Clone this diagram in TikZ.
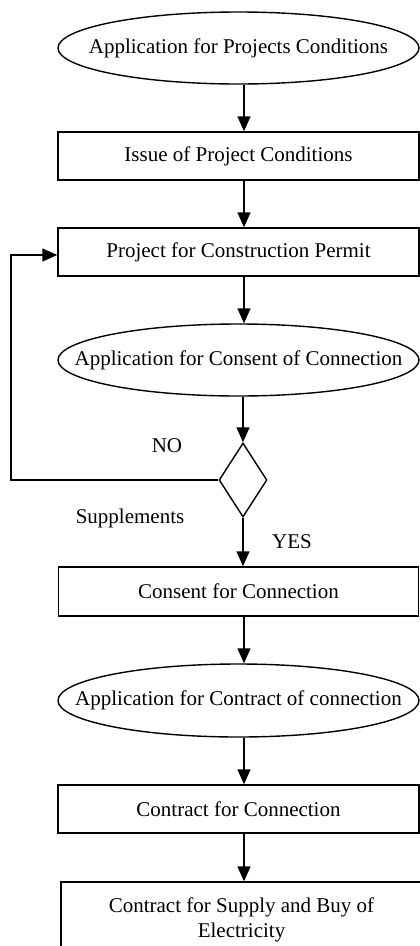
\documentclass[tikz,border=0pt]{standalone}
\usepackage{fontspec}
\setmainfont{Liberation Serif}
\usetikzlibrary{shapes.geometric,arrows.meta}
\tikzset{
  every node/.style={font=\fontsize{21}{24.5}\selectfont},
  stepbox/.style={draw, line width=1.4pt, rectangle, inner sep=0pt, minimum width=361pt, minimum height=48pt},
  oval/.style={draw, line width=1.4pt, ellipse, inner sep=0pt, minimum width=361pt, minimum height=72pt},
  decide/.style={draw, line width=1.4pt, diamond, inner sep=0pt, minimum width=48pt, minimum height=74pt},
  flow/.style={line width=1.4pt, -{Triangle[length=15pt,width=13pt]}},
  lbl/.style={inner sep=0pt}
}
\begin{document}
\begin{tikzpicture}[x=1pt,y=-1pt]
\clip (0,0) rectangle (420,946);
\fill[white] (0,0) rectangle (420,946);
\node[oval, label={[lbl]center:Application for Projects Conditions}] (e1) at (238.5,48) {};
\node[stepbox] (b1) at (238.5,156) {Issue of Project Conditions};
\node[stepbox] (b2) at (238.5,252) {Project for Construction Permit};
\node[oval, label={[lbl]center:Application for Consent of Connection}] (e2) at (238.5,360) {};
\node[decide] (d) at (243,480) {};
\node[stepbox, minimum width=360pt, minimum height=49pt] (b3) at (238.5,591.5) {Consent for Connection};
\node[oval, minimum height=73pt, label={[lbl]center:Application for Contract of connection}] (e3) at (238.5,700.5) {};
\node[stepbox] (b4) at (238.5,809) {Contract for Connection};
\node[stepbox, minimum height=76pt, align=center] (b5) at (241.5,920) {Contract for Supply and Buy of\\Electricity};
\node[lbl] (no) at (167,446) {NO};
\node[lbl] (sup) at (130,518) {Supplements};
\node[lbl] (yes) at (292,542) {YES};
\coordinate (fb) at (11,480);
\draw[flow] ([xshift=5.5pt]e1.south) -- ([xshift=5.5pt]b1.north);
\draw[flow] ([xshift=5.5pt]b1.south) -- ([xshift=5.5pt]b2.north);
\draw[flow] ([xshift=5.5pt]b2.south) -- ([xshift=5.5pt]e2.north);
\draw[flow] ([xshift=4.5pt]e2.south) -- (d.north);
\draw[flow] (d.south) -- (d.south |- b3.north);
\draw[flow] ([xshift=5.5pt]b3.south) -- ([xshift=5.5pt]e3.north);
\draw[flow] ([xshift=5.5pt]e3.south) -- ([xshift=5.5pt]b4.north);
\draw[flow] ([xshift=5.5pt]b4.south) -- ([xshift=2.5pt]b5.north);
\draw[flow] (d.west) -- (fb) |- ([yshift=-3pt]b2.west);
\end{tikzpicture}
\end{document}
